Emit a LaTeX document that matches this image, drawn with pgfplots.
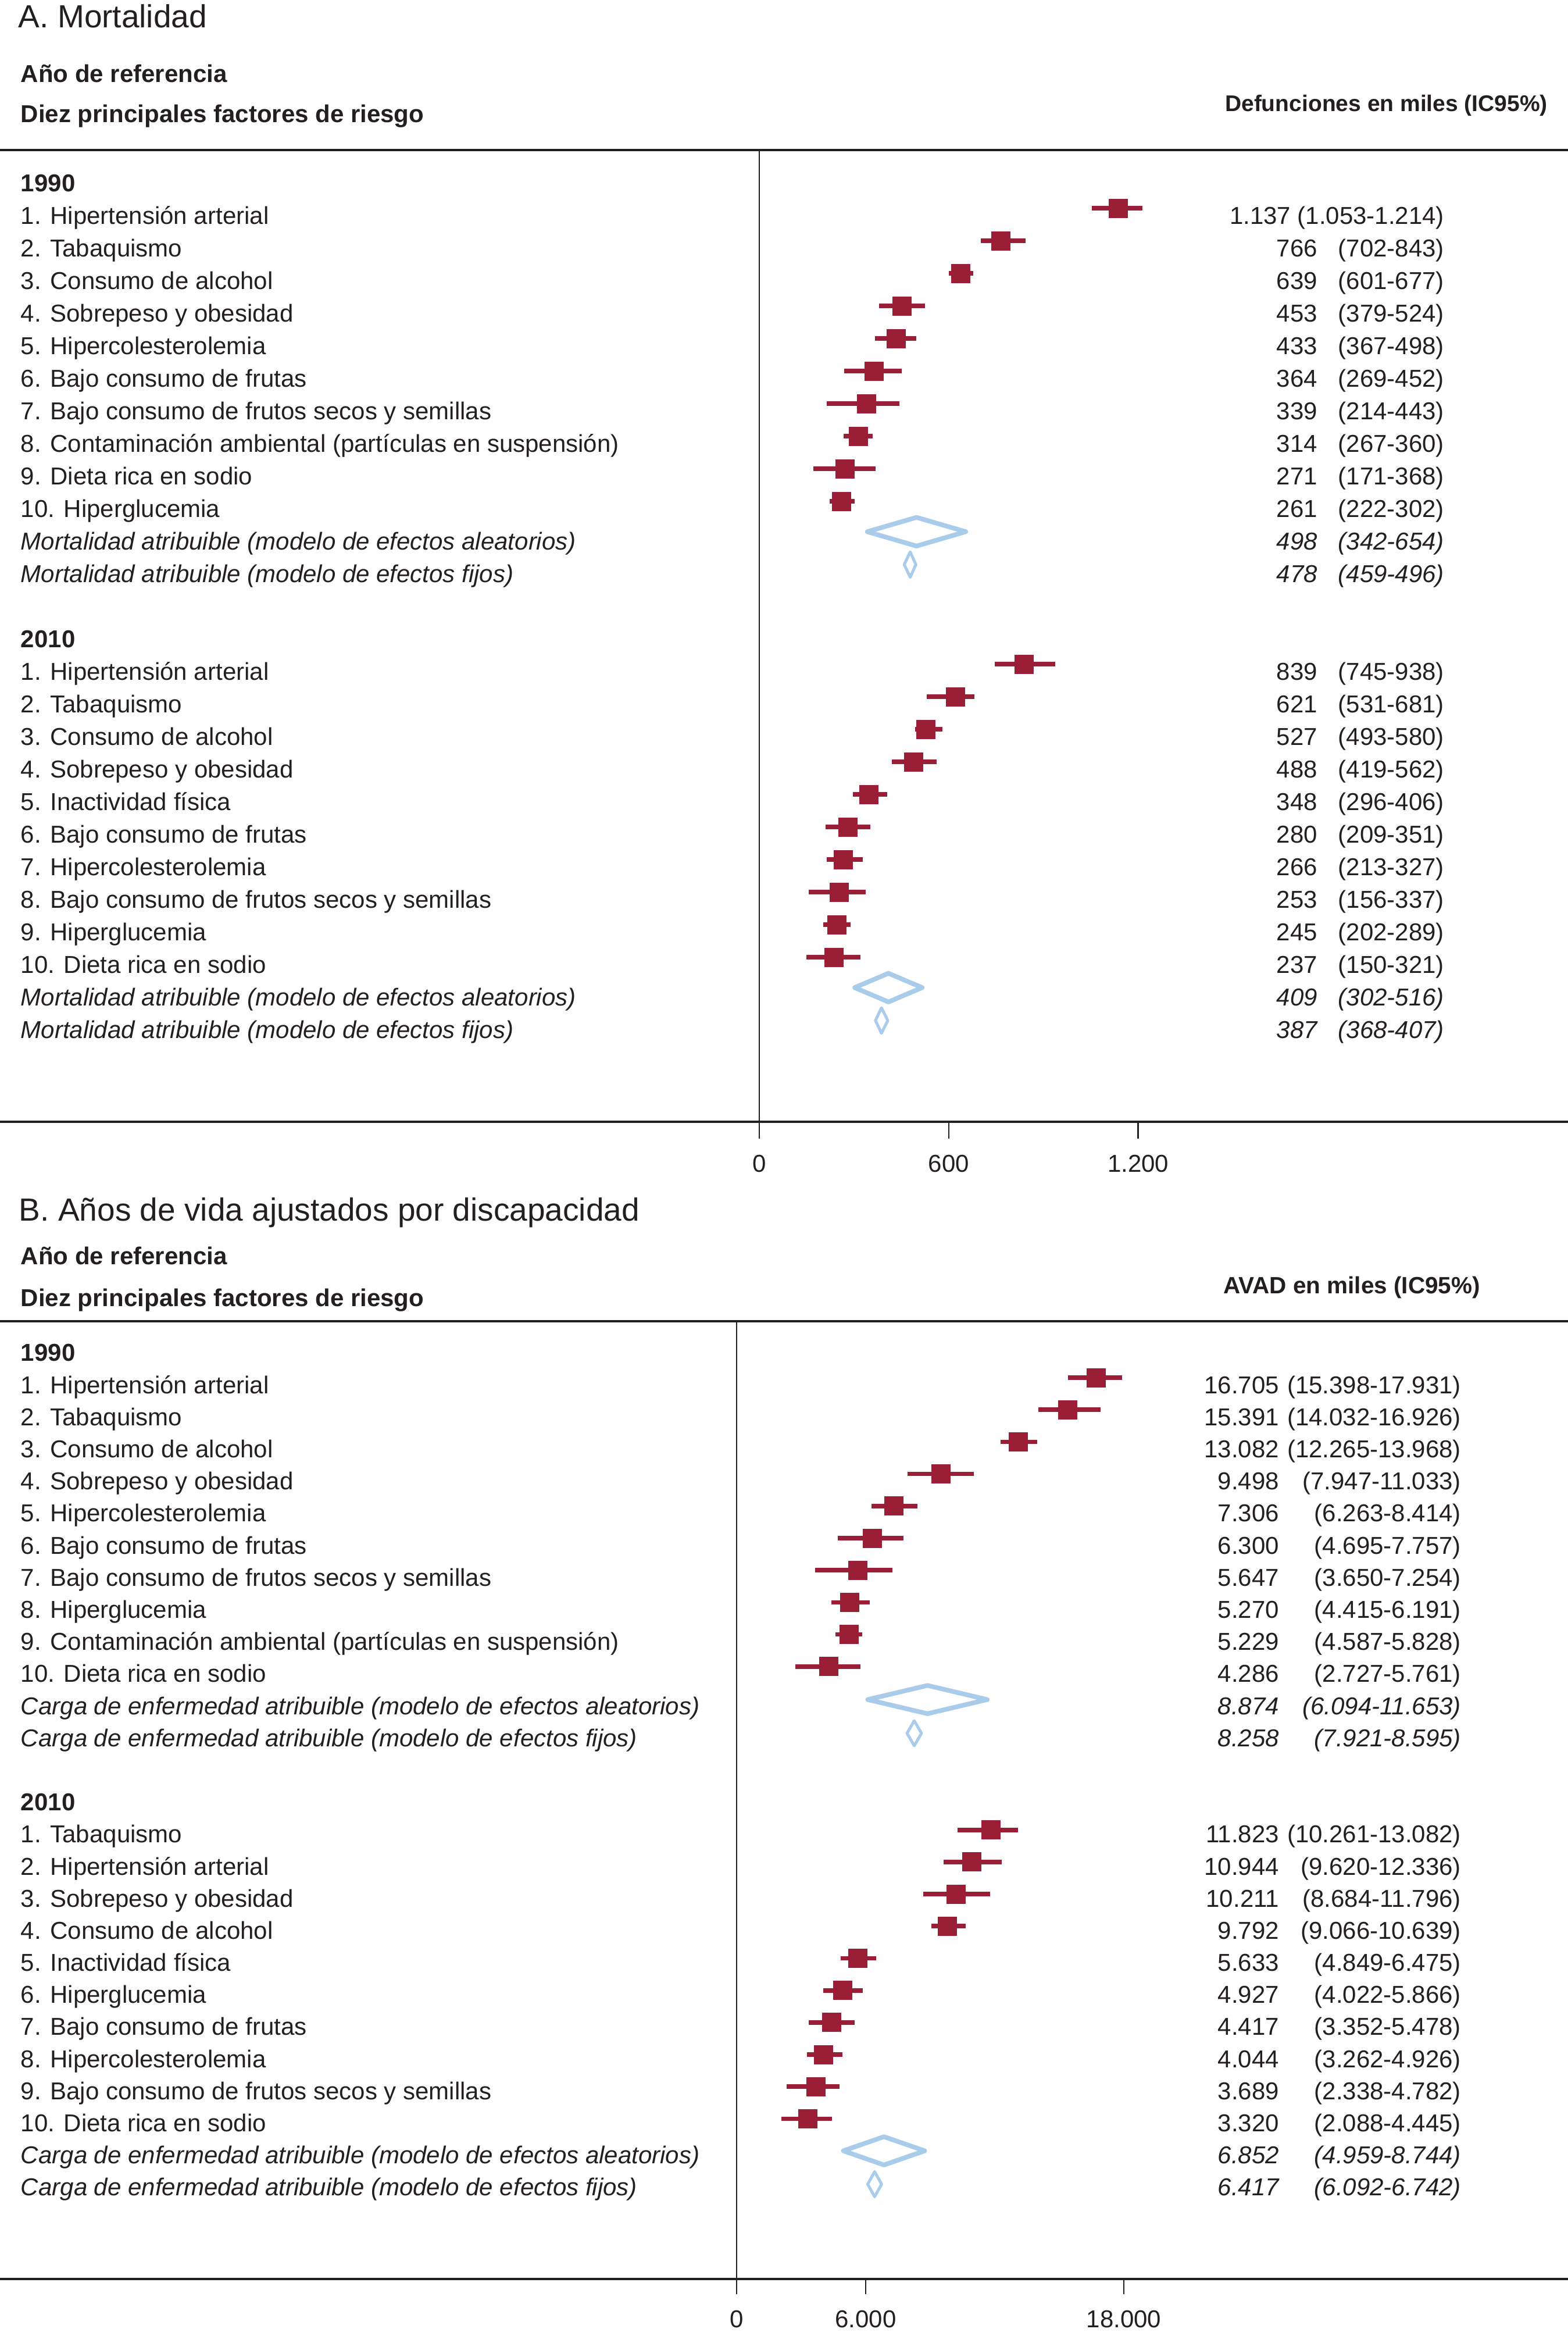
\documentclass[border=0pt]{standalone}
\usepackage{fontspec}
\setmainfont{Liberation Sans}
\usepackage{pgfplots}
\pgfplotsset{compat=1.18}
\usepackage{pgfplotstable}

\definecolor{cired}{RGB}{155,30,55}
\definecolor{sumblue}{RGB}{170,204,235}
\definecolor{ink}{RGB}{35,31,32}

\newcommand\bt{\fontsize{8.4}{10}\selectfont}
\newcommand\ttl{\fontsize{11}{13}\selectfont}

% y = row position (0 = year header), est, lower and upper 95% CI
\pgfplotstableread{
y est lo hi
0.76 1137 1053 1214
1.76 766 702 843
2.76 639 601 677
3.76 453 379 524
4.76 433 367 498
5.76 364 269 452
6.76 339 214 443
7.76 314 267 360
8.76 271 171 368
9.76 261 222 302
14.76 839 745 938
15.76 621 531 681
16.76 527 493 580
17.76 488 419 562
18.76 348 296 406
19.76 280 209 351
20.76 266 213 327
21.76 253 156 337
22.76 245 202 289
23.76 237 150 321
}\mortA

\pgfplotstableread{
y est lo hi
0.77 16705 15398 17931
1.77 15391 14032 16926
2.77 13082 12265 13968
3.77 9498 7947 11033
4.77 7306 6263 8414
5.77 6300 4695 7757
6.77 5647 3650 7254
7.77 5270 4415 6191
8.77 5229 4587 5828
9.77 4286 2727 5761
14.86 11823 10261 13082
15.86 10944 9620 12336
16.86 10211 8684 11796
17.86 9792 9066 10639
18.86 5633 4849 6475
19.86 4927 4022 5866
20.86 4417 3352 5478
21.86 4044 3262 4926
22.86 3689 2338 4782
23.86 3320 2088 4445
}\avadB

\pgfplotsset{
  forest/.style={
    scale only axis, width=539.4pt, y dir=reverse, clip=false,
    axis x line*=bottom, axis y line=none, ytick=\empty,
    tick align=outside,
    axis line style={line width=0.75pt, ink},
    xtick style={line width=0.45pt, ink},
    tick label style={font=\bt, text=ink},
    xticklabel style={yshift=-2pt},
  },
  est/.style={only marks, mark=square*, mark size=3.1pt, cired,
    mark options={fill=cired, draw=cired},
    error bars/.cd, x dir=both, x explicit, error mark=none,
    error bar style={line width=1.55pt, cired}},
  rnd/.style={sumblue, line width=1.6pt, line join=round, line cap=round, mark=none},
  fix/.style={sumblue, line width=1.0pt, line join=round, line cap=round, mark=none},
}

\begin{document}
\begin{tikzpicture}
\path[use as bounding box] (0pt,0pt) rectangle (539.4pt,-803.4pt);

% ---------- A. Mortalidad ----------
\begin{axis}[forest, at={(0pt,-51.6pt)}, anchor=north west, height=334.2pt,
  xmin=-2405.2, xmax=2561.7, ymin=-1.03, ymax=28.81,
  xtick={0,600,1200}, xticklabels={0,600,{1.200}}, major tick length=5.8pt]
\draw[line width=0.75pt, ink] (axis cs:-2405.2,-1.03) -- (axis cs:2561.7,-1.03);
\draw[line width=0.5pt, ink] (axis cs:0,-1.03) -- (axis cs:0,28.81);
\addplot[est] table[x=est, y=y,
  x error minus expr=\thisrow{est}-\thisrow{lo},
  x error plus expr=\thisrow{hi}-\thisrow{est}] {\mortA};
\addplot[rnd] coordinates {(342,10.69) (498,10.25) (654,10.69) (498,11.13) (342,10.69)};
\addplot[fix] coordinates {(459,11.70) (478,11.31) (496,11.70) (478,12.09) (459,11.70)};
\addplot[rnd] coordinates {(302,24.69) (409,24.25) (516,24.69) (409,25.13) (302,24.69)};
\addplot[fix] coordinates {(368,25.70) (387,25.31) (407,25.70) (387,26.09) (368,25.70)};
\end{axis}

% ---------- B. AVAD ----------
\begin{axis}[forest, at={(0pt,-454.4pt)}, anchor=north west, height=329.4pt,
  xmin=-34243, xmax=38649, ymin=-0.9875, ymax=28.855,
  xtick={0,6000,18000}, xticklabels={0,{6.000},{18.000}}, major tick length=5.2pt]
\draw[line width=0.75pt, ink] (axis cs:-34243,-0.9875) -- (axis cs:38649,-0.9875);
\draw[line width=0.5pt, ink] (axis cs:0,-0.9875) -- (axis cs:0,28.855);
\addplot[est] table[x=est, y=y,
  x error minus expr=\thisrow{est}-\thisrow{lo},
  x error plus expr=\thisrow{hi}-\thisrow{est}] {\avadB};
\addplot[rnd] coordinates {(6094,10.80) (8874,10.36) (11653,10.80) (8874,11.24) (6094,10.80)};
\addplot[fix] coordinates {(7921,11.85) (8258,11.46) (8595,11.85) (8258,12.24) (7921,11.85)};
\addplot[rnd] coordinates {(4959,24.86) (6852,24.42) (8744,24.86) (6852,25.30) (4959,24.86)};
\addplot[fix] coordinates {(6092,25.90) (6417,25.51) (6742,25.90) (6417,26.29) (6092,25.90)};
\end{axis}

% ---------- texts (pixel grid of the reference) ----------
\begin{scope}[x=0.2pt, y=-0.2pt, every node/.style={inner sep=0pt, text=ink, font=\bt}]
% panel A
\node[anchor=base west, font=\ttl] at (31,47) {A. Mortalidad};
\node[anchor=base west, font=\bt\bfseries] at (35,141.7) {Año de referencia};
\node[anchor=base west, font=\bt\bfseries] at (35,210.5) {Diez principales factores de riesgo};
\node[anchor=base east, font=\fontsize{7.8}{9}\selectfont\bfseries] at (2663,191) {Defunciones en miles (IC95\%)};
\node[anchor=base west, font=\bt\bfseries] at (35,329.5) {1990};
\node[anchor=base west, font=\bt\bfseries] at (35,1113.5) {2010};
\node[anchor=base east] at (2485,385.5) {1.137 (1.053-1.214)};
\node[anchor=base west] at (35,385.5) {1. Hipertensión arterial};
\foreach \k/\lab/\v/\ci in {
  2/{2. Tabaquismo}/766/{(702-843)},
  3/{3. Consumo de alcohol}/639/{(601-677)},
  4/{4. Sobrepeso y obesidad}/453/{(379-524)},
  5/{5. Hipercolesterolemia}/433/{(367-498)},
  6/{6. Bajo consumo de frutas}/364/{(269-452)},
  7/{7. Bajo consumo de frutos secos y semillas}/339/{(214-443)},
  8/{8. Contaminación ambiental (partículas en suspensión)}/314/{(267-360)},
  9/{9. Dieta rica en sodio}/271/{(171-368)},
  10/{10. Hiperglucemia}/261/{(222-302)},
  15/{1. Hipertensión arterial}/839/{(745-938)},
  16/{2. Tabaquismo}/621/{(531-681)},
  17/{3. Consumo de alcohol}/527/{(493-580)},
  18/{4. Sobrepeso y obesidad}/488/{(419-562)},
  19/{5. Inactividad física}/348/{(296-406)},
  20/{6. Bajo consumo de frutas}/280/{(209-351)},
  21/{7. Hipercolesterolemia}/266/{(213-327)},
  22/{8. Bajo consumo de frutos secos y semillas}/253/{(156-337)},
  23/{9. Hiperglucemia}/245/{(202-289)},
  24/{10. Dieta rica en sodio}/237/{(150-321)}}{
  \node[anchor=base west] at (35,{329.5+56*\k}) {\lab};
  \node[anchor=base east] at (2267,{329.5+56*\k}) {\v};
  \node[anchor=base east] at (2485,{329.5+56*\k}) {\ci};
}
\foreach \k/\lab/\v/\ci in {
  11/{Mortalidad atribuible (modelo de efectos aleatorios)}/498/{(342-654)},
  12/{Mortalidad atribuible (modelo de efectos fijos)}/478/{(459-496)},
  25/{Mortalidad atribuible (modelo de efectos aleatorios)}/409/{(302-516)},
  26/{Mortalidad atribuible (modelo de efectos fijos)}/387/{(368-407)}}{
  \node[anchor=base west, font=\bt\itshape] at (35,{329.5+56*\k}) {\lab};
  \node[anchor=base east, font=\bt\itshape] at (2267,{329.5+56*\k}) {\v};
  \node[anchor=base east, font=\bt\itshape] at (2485,{329.5+56*\k}) {\ci};
}
% panel B
\node[anchor=base west, font=\ttl] at (32,2100) {B. Años de vida ajustados por discapacidad};
\node[anchor=base west, font=\bt\bfseries] at (35,2175) {Año de referencia};
\node[anchor=base west, font=\bt\bfseries] at (35,2247) {Diez principales factores de riesgo};
\node[anchor=base east, font=\fontsize{8.1}{9.5}\selectfont\bfseries] at (2547,2225) {AVAD en miles (IC95\%)};
\node[anchor=base west, font=\bt\bfseries] at (35,2341) {1990};
\node[anchor=base west, font=\bt\bfseries] at (35,{2341+55.19*14}) {2010};
\foreach \k/\lab/\v/\ci in {
  1/{1. Hipertensión arterial}/16.705/{(15.398-17.931)},
  2/{2. Tabaquismo}/15.391/{(14.032-16.926)},
  3/{3. Consumo de alcohol}/13.082/{(12.265-13.968)},
  4/{4. Sobrepeso y obesidad}/9.498/{(7.947-11.033)},
  5/{5. Hipercolesterolemia}/7.306/{(6.263-8.414)},
  6/{6. Bajo consumo de frutas}/6.300/{(4.695-7.757)},
  7/{7. Bajo consumo de frutos secos y semillas}/5.647/{(3.650-7.254)},
  8/{8. Hiperglucemia}/5.270/{(4.415-6.191)},
  9/{9. Contaminación ambiental (partículas en suspensión)}/5.229/{(4.587-5.828)},
  10/{10. Dieta rica en sodio}/4.286/{(2.727-5.761)},
  15/{1. Tabaquismo}/11.823/{(10.261-13.082)},
  16/{2. Hipertensión arterial}/10.944/{(9.620-12.336)},
  17/{3. Sobrepeso y obesidad}/10.211/{(8.684-11.796)},
  18/{4. Consumo de alcohol}/9.792/{(9.066-10.639)},
  19/{5. Inactividad física}/5.633/{(4.849-6.475)},
  20/{6. Hiperglucemia}/4.927/{(4.022-5.866)},
  21/{7. Bajo consumo de frutas}/4.417/{(3.352-5.478)},
  22/{8. Hipercolesterolemia}/4.044/{(3.262-4.926)},
  23/{9. Bajo consumo de frutos secos y semillas}/3.689/{(2.338-4.782)},
  24/{10. Dieta rica en sodio}/3.320/{(2.088-4.445)}}{
  \node[anchor=base west] at (35,{2341+55.19*\k}) {\lab};
  \node[anchor=base east] at (2201,{2341+55.19*\k}) {\v};
  \node[anchor=base east] at (2514,{2341+55.19*\k}) {\ci};
}
\foreach \k/\lab/\v/\ci in {
  11/{Carga de enfermedad atribuible (modelo de efectos aleatorios)}/8.874/{(6.094-11.653)},
  12/{Carga de enfermedad atribuible (modelo de efectos fijos)}/8.258/{(7.921-8.595)},
  25/{Carga de enfermedad atribuible (modelo de efectos aleatorios)}/6.852/{(4.959-8.744)},
  26/{Carga de enfermedad atribuible (modelo de efectos fijos)}/6.417/{(6.092-6.742)}}{
  \node[anchor=base west, font=\bt\itshape] at (35,{2341+55.19*\k}) {\lab};
  \node[anchor=base east, font=\bt\itshape] at (2201,{2341+55.19*\k}) {\v};
  \node[anchor=base east, font=\bt\itshape] at (2514,{2341+55.19*\k}) {\ci};
}
\end{scope}
\end{tikzpicture}
\end{document}
